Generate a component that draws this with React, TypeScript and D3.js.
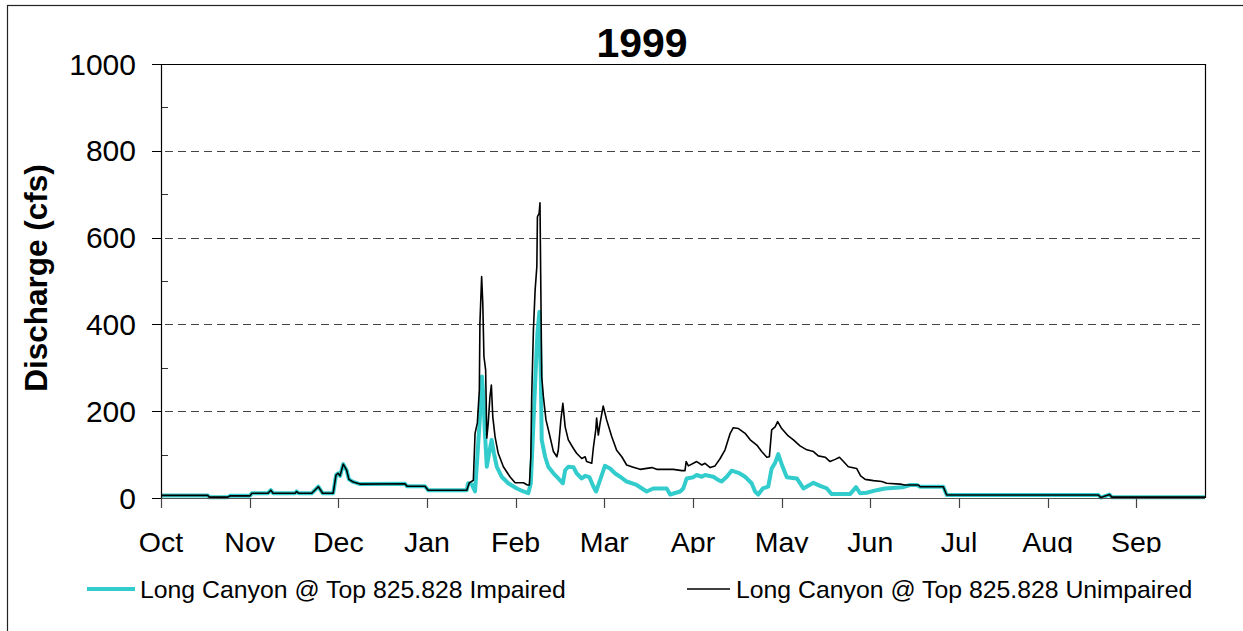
import React from 'react';
import * as d3 from 'd3';

const title = '1999';
const yTitle = 'Discharge (cfs)';
const months = ['Oct', 'Nov', 'Dec', 'Jan', 'Feb', 'Mar', 'Apr', 'May', 'Jun', 'Jul', 'Aug', 'Sep'];
const monthTickDays = [0, 31, 62, 93, 124, 155, 186, 217, 248, 279, 310, 341];
const yMajorTicks = [0, 200, 400, 600, 800, 1000];
const yMinorTicks = [100, 300, 500, 700, 900];
const gridValues = [200, 400, 600, 800];

const impairedName = 'Long Canyon @ Top 825.828 Impaired';
const unimpairedName = 'Long Canyon @ Top 825.828 Unimpaired';

const unimpairedDays = [
  0, 16.4, 16.8, 23.4, 24.1, 31.1, 31.8, 37.4, 38.4, 39.2, 46.9, 47.4, 48.1, 52.7, 55, 56.5, 60.2, 61.2, 61.9, 62.6,
  63.7, 64.9, 65.7, 67.2, 69.6, 85.3, 86, 92.3, 93.4, 106.9, 107.8, 109.2, 109.8, 110.6, 111.3, 111.5, 112.1, 112.5,
  112.9, 113.5, 113.9, 114.4, 115, 115.5, 116, 116.8, 117.9, 119.7, 122, 123.8, 126.7, 128.1, 128.8, 129.3, 129.6,
  130.2, 130.8, 131.4, 131.6, 132.2, 132.5, 132.8, 133.1, 133.7, 134.6, 136, 137.2, 138.4, 138.9, 139.8, 140.5, 141.3,
  142.4, 144.2, 145.3, 147.1, 148.3, 148.8, 150.6, 151.2, 152, 152.3, 152.9, 153.5, 154.6, 155.8, 157.6, 159.3, 161.1,
  162.8, 165.1, 167.5, 171.6, 173.3, 179.1, 182.1, 183.2, 183.6, 184.4, 187.3, 189.1, 190.2, 192, 193.7, 195.5, 197.2,
  199, 200.1, 201.9, 204.2, 206, 208.3, 210, 211.8, 212.7, 213.5, 214.7, 215.6, 217, 219.3, 221.1, 223.4, 225.8, 228.1,
  229.8, 232.2, 233.9, 235.7, 237.2, 238.6, 240.3, 243.2, 244.6, 246.2, 249.1, 252, 253.7, 258.4, 260.1, 264.8, 265.4,
  273.5, 274.7, 327.7, 328.6, 331.6, 332.4, 365,
];
const unimpairedCfs = [
  6, 6, 2, 2, 5, 5, 11, 11, 18, 11, 11, 15, 11, 11, 26, 11, 11, 53, 57, 51,
  78, 64, 43, 37, 32, 33, 27, 27, 18, 18, 35, 41, 149, 173, 249, 403, 510, 449,
  326, 295, 138, 172, 233, 260, 187, 141, 103, 72, 49, 35, 35, 30, 30, 95, 233,
  387, 479, 533, 648, 656, 680, 479, 280, 233, 180, 141, 107, 95, 110, 180, 218, 164,
  134, 114, 103, 91, 95, 84, 80, 118, 157, 184, 145, 172, 212, 180, 141, 110, 95,
  76, 71, 66, 70, 66, 66, 63, 63, 84, 74, 84, 76, 80, 70, 74, 91, 111,
  149, 162, 160, 149, 134, 122, 107, 94, 95, 157, 164, 176, 160, 143, 134, 120, 111, 107,
  97, 94, 84, 89, 94, 84, 72, 68, 51, 43, 40, 38, 34, 32, 30, 30, 26,
  26, 7, 7, 1, 8, 2, 2,
];

const impairedDays = [
  0, 16.4, 16.8, 23.4, 24.1, 31.1, 31.8, 37.4, 38.4, 39.2, 46.9, 47.4, 48.1, 52.7, 55, 56.5, 60.2, 61.2, 61.9, 62.6,
  63.7, 64.9, 65.7, 67.2, 69.6, 85.3, 86, 92.3, 93.4, 106.9, 107.4, 108.6, 109.8, 110.6, 111.5, 112.2, 112.7, 113.2,
  113.9, 114.7, 115.6, 116.4, 117.4, 119.1, 121.4, 124.4, 126.7, 128.4, 129.3, 130.2, 130.8, 131.6, 132.3, 132.8,
  133.1, 134.3, 135.4, 137.2, 138.9, 140.5, 141.3, 142.4, 144.2, 145.3, 147.1, 148.3, 149.8, 151.2, 152.1, 153.5,
  155.2, 157, 158.7, 160.5, 162.8, 166.3, 169.8, 172.1, 176.8, 178, 181.5, 182.6, 183.8, 186.1, 187.3, 189.1, 190.2,
  193.1, 194.9, 196, 197.8, 199.5, 201.9, 204.2, 206.5, 207.7, 208.8, 210.4, 212.3, 213.5, 214.7, 215.8, 217, 218.8,
  222.3, 224.6, 228.1, 230.4, 232.8, 234.5, 240.9, 243, 244.4, 246.7, 250.2, 253.1, 259.5, 261.9, 264.2, 265.4,
  273.5, 274.7, 327.7, 328.6, 331.6, 332.4, 365,
];
const impairedCfs = [
  6, 6, 2, 2, 5, 5, 11, 11, 18, 11, 11, 15, 11, 11, 26, 11, 11, 53, 57, 51,
  78, 64, 43, 37, 32, 33, 27, 27, 18, 18, 34, 32, 15, 95, 187, 280, 233, 157,
  72, 103, 134, 103, 72, 49, 34, 22, 15, 11, 34, 172, 264, 380, 429, 280,
  134, 95, 72, 57, 45, 34, 64, 72, 71, 57, 45, 51, 48, 26, 15, 41,
  74, 68, 57, 49, 38, 30, 15, 22, 22, 8, 15, 22, 45, 48, 53, 49, 53,
  49, 41, 38, 49, 63, 58, 49, 34, 15, 8, 22, 26, 68, 81, 101, 78, 48,
  45, 22, 35, 28, 22, 9, 9, 25, 11, 12, 18, 22, 25, 30, 30, 26,
  26, 7, 7, 1, 8, 2, 2,
];

const W = 1243;
const H = 631;
const FONT = '"Liberation Sans", Arial, Helvetica, sans-serif';

export default function App() {
  const x = d3.scaleLinear().domain([0, 365]).range([161, 1205]);
  const y = d3.scaleLinear().domain([0, 1000]).range([498, 64]);
  const line = d3
    .line<[number, number]>()
    .x((d) => x(d[0]))
    .y((d) => y(d[1]));
  const impaired: [number, number][] = impairedDays.map((d, i) => [d, impairedCfs[i]]);
  const unimpaired: [number, number][] = unimpairedDays.map((d, i) => [d, unimpairedCfs[i]]);
  const [x0, x1] = x.range();
  const [yb, yt] = y.range();

  return (
    <svg
      width={W}
      height={H}
      style={{ position: 'absolute', left: 0, top: 0, background: '#fff' }}
      fontFamily={FONT}
    >
      <defs>
        <clipPath id="labelClip">
          <rect x={0} y={0} width={W} height={553} />
        </clipPath>
      </defs>
      <rect x={0} y={0} width={W} height={H} fill="#fff" />
      <rect x={7.5} y={5.5} width={W + 20} height={H + 20} fill="none" stroke="#222" strokeWidth={1.2} />

      <text x={642} y={57} textAnchor="middle" fontSize={41} fontWeight="bold" fill="#000">
        {title}
      </text>

      {/* grid */}
      {gridValues.map((v) => (
        <line
          key={'g' + v}
          x1={x0 - 9}
          x2={x1}
          y1={Math.round(y(v)) + 0.5}
          y2={Math.round(y(v)) + 0.5}
          stroke="#444"
          strokeWidth={1}
          strokeDasharray="8,5"
        />
      ))}
      {/* frame top & right */}
      <line x1={x0 - 9} x2={x1} y1={yt + 0.5} y2={yt + 0.5} stroke="#000" strokeWidth={1.2} />
      <line x1={x1 + 0.5} x2={x1 + 0.5} y1={yt} y2={yb} stroke="#000" strokeWidth={1.2} />

      {/* y ticks */}
      {yMajorTicks.map((v) => (
        <g key={'ym' + v}>
          <line x1={x0 - 9} x2={x0} y1={Math.round(y(v)) + 0.5} y2={Math.round(y(v)) + 0.5} stroke="#000" />
          <text x={136} y={y(v)} dy="0.35em" textAnchor="end" fontSize={30} fill="#000">
            {v}
          </text>
        </g>
      ))}
      {yMinorTicks.map((v) => (
        <line key={'yn' + v} x1={x0} x2={x0 + 7} y1={Math.round(y(v)) + 0.5} y2={Math.round(y(v)) + 0.5} stroke="#333" />
      ))}

      {/* series */}
      <path d={line(impaired) || ''} fill="none" stroke="#33CCCC" strokeWidth={4} strokeLinejoin="round" />
      <path d={line(unimpaired) || ''} fill="none" stroke="#000" strokeWidth={1.6} strokeLinejoin="round" />

      {/* axes */}
      <line x1={x0 + 0.5} x2={x0 + 0.5} y1={yt} y2={yb} stroke="#000" strokeWidth={1.2} />
      <line x1={x0} x2={x1} y1={yb + 0.5} y2={yb + 0.5} stroke="#555" strokeWidth={1.2} />
      {monthTickDays.map((d) => (
        <line key={'xt' + d} x1={Math.round(x(d)) + 0.5} x2={Math.round(x(d)) + 0.5} y1={yb} y2={yb + 10} stroke="#444" strokeWidth={1.2} />
      ))}
      <g clipPath="url(#labelClip)">
        {months.map((m, i) => (
          <text key={m} x={x(monthTickDays[i])} y={552} textAnchor="middle" fontSize={28.5} fill="#000">
            {m}
          </text>
        ))}
      </g>

      <text
        transform={`translate(47, ${(yt + yb) / 2 - 3}) rotate(-90)`}
        textAnchor="middle"
        fontSize={31.5}
        fontWeight="bold"
        fill="#000"
      >
        {yTitle}
      </text>

      {/* legend */}
      <line x1={87} x2={135} y1={589} y2={589} stroke="#33CCCC" strokeWidth={4} />
      <text x={140} y={589} dy="0.35em" fontSize={24.8} fill="#000">
        {impairedName}
      </text>
      <line x1={687} x2={730} y1={589} y2={589} stroke="#000" strokeWidth={1.6} />
      <text x={736} y={589} dy="0.35em" fontSize={24.8} fill="#000">
        {unimpairedName}
      </text>
    </svg>
  );
}
